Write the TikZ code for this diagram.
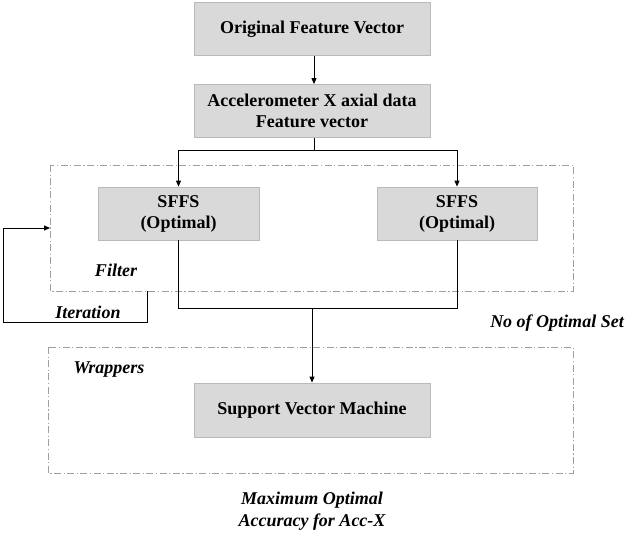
\documentclass[tikz,border=0pt]{standalone}
\usepackage{fontspec}
\setmainfont{Liberation Serif}
\usetikzlibrary{arrows.meta}
\begin{document}
\begin{tikzpicture}[x=1pt,y=-1pt,
  procbox/.style={draw=gray!55,fill=gray!30,line width=0.8pt,inner sep=0pt,font=\fontsize{18}{21}\selectfont\bfseries,align=center},
  groupbox/.style={draw=gray!75,line width=0.8pt,dash pattern=on 7pt off 2.5pt on 1.2pt off 2.5pt},
  conn/.style={line width=0.9pt,black},
  arr/.style={conn,-{Triangle[length=6pt,width=5pt]}},
  lab/.style={font=\fontsize{18}{22}\selectfont\bfseries\itshape,align=center}]
\useasboundingbox (0,0) rectangle (633,541);
% group frames
\draw[groupbox] (50,165) rectangle (573,291);
\draw[groupbox] (48,347) rectangle (573,473);
% boxes
\node[procbox,minimum width=236pt,minimum height=53pt] (ofv) at (312,29) {Original Feature Vector};
\node[procbox,minimum width=236pt,minimum height=53pt] (acc) at (312,111) {Accelerometer X axial data\\Feature vector};
\node[procbox,minimum width=161pt,minimum height=53pt] (s1) at (178.5,213.5) {SFFS\\(Optimal)};
\node[procbox,minimum width=160pt,minimum height=53pt] (s2) at (457,213.5) {SFFS\\(Optimal)};
\node[procbox,minimum width=236pt,minimum height=54pt] (svm) at (312,410) {Support Vector Machine};
% coordinates
\coordinate (split) at (314,150);
\coordinate (join) at (312,308);
\coordinate (filterL) at (50,228);
\coordinate (iterS) at (147,291);
% connectors
\draw[arr] (ofv.south -| split) -- (acc.north -| split);
\draw[conn] (acc.south -| split) -- (split);
\draw[arr] (split) -| (s1.north);
\draw[arr] (split) -| (s2.north);
\draw[conn] (s1.south) |- (join);
\draw[conn] (s2.south) |- (join);
\draw[arr] (join) -- (svm.north -| join);
\draw[arr] (iterS) -- (147,322) -- (3,322) -- (3,228) -- (filterL);
% labels
\node[lab] (filt) at (116,270) {Filter};
\node[lab] (iter) at (88,312) {Iteration};
\node[lab] (nos) at (557,323) {No of Optimal Set};
\node[lab] (wrap) at (109,370) {Wrappers};
\node[lab] (maxo) at (312,511) {Maximum Optimal\\Accuracy for Acc-X};
\end{tikzpicture}
\end{document}
